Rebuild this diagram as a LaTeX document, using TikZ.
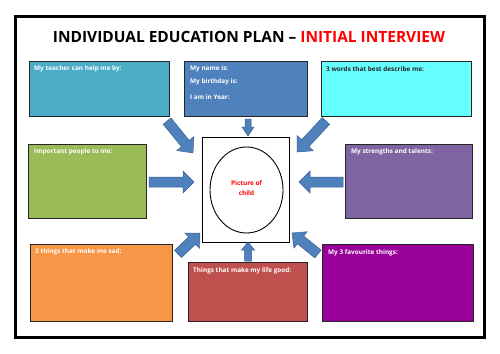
\documentclass[tikz,border=0pt]{standalone}
\usepackage{fontspec}
\setmainfont{Open Sans}
\usetikzlibrary{calc,shapes.geometric}
\definecolor{cteal}{HTML}{4BACC6}
\definecolor{cblue}{HTML}{4F81BD}
\definecolor{ccyan}{HTML}{66FFFF}
\definecolor{cgreen}{HTML}{9BBB59}
\definecolor{cpurple}{HTML}{8064A2}
\definecolor{corange}{HTML}{F79646}
\definecolor{cred}{HTML}{C0504D}
\definecolor{cmagenta}{HTML}{990099}
\definecolor{carrow}{HTML}{4F81BD}
\definecolor{carrowline}{HTML}{3A6090}
\definecolor{ctitlered}{HTML}{FF0000}
\tikzset{
  box/.style={draw=black!85, line width=1.3pt, anchor=north west, inner sep=0pt},
  lbl/.style={anchor=west, text=white, font=\fontsize{6.4}{7.5}\selectfont\bfseries, inner sep=0pt},
  arr/.style={fill=carrow, draw=carrowline, line width=0.5pt, line join=miter},
}
% cx, cy, angle, half length, shaft half, head half, head length
\newcommand\barrow[7]{%
  \draw[arr,shift={(#1,#2)},rotate=#3] (-#4,-#5) -- (#4-#7,-#5) -- (#4-#7,-#6) -- (#4,0) -- (#4-#7,#6) -- (#4-#7,#5) -- (-#4,#5) -- cycle;}
\begin{document}
\begin{tikzpicture}[x=1pt,y=-1pt]
\useasboundingbox (0,0) rectangle (500,353);
\fill[white] (0,0) rectangle (500,353);
\draw[line width=3pt] (15.5,16.5) rectangle (484,337);
\node[font=\bfseries, inner sep=0pt] (title) at (249,37) {\resizebox{392pt}{!}{INDIVIDUAL EDUCATION PLAN – \textcolor{ctitlered}{INITIAL INTERVIEW}}};
% top row
\node[box, fill=cteal, minimum width=140pt, minimum height=55pt] (b1) at (29,61) {};
\node[box, fill=cblue, minimum width=123pt, minimum height=55pt] (b2) at (184,61) {};
\node[box, fill=ccyan, minimum width=150pt, minimum height=55pt] (b3) at (321,61) {};
% middle row
\node[box, fill=cgreen, minimum width=118pt, minimum height=74pt] (b4) at (28,144) {};
\node[box, fill=cpurple, minimum width=127pt, minimum height=74pt] (b5) at (345,144) {};
\node[box, fill=white, draw=black, line width=1.2pt, minimum width=87pt, minimum height=105pt] (pic) at (202,137) {};
\node[draw=black, line width=0.9pt, ellipse, minimum width=73pt, minimum height=86pt, inner sep=0pt] (ov) at (246.5,190) {};
% bottom row
\node[box, fill=corange, minimum width=142pt, minimum height=77pt] (b6) at (30,244) {};
\node[box, fill=cred, minimum width=119pt, minimum height=59pt] (b7) at (188,262) {};
\node[box, fill=cmagenta, minimum width=151pt, minimum height=77pt] (b8) at (322,244) {};
% labels
\node[lbl] (t1) at (34,69) {My teacher can help me by:};
\node[lbl] (t2a) at (190,69) {My name is:};
\node[lbl] (t2b) at (190,82) {My birthday is:};
\node[lbl] (t2c) at (190,97) {I am in Year:};
\node[lbl, text=black!85] (t3) at (326,69) {3 words that best describe me:};
\node[lbl] (t4) at (34,152) {Important people to me:};
\node[lbl] (t5) at (351,152) {My strengths and talents:};
\node[lbl] (t6) at (35,252) {3 things that make me sad:};
\node[lbl] (t7) at (193,271) {Things that make my life good:};
\node[lbl] (t8) at (328,253) {My 3 favourite things:};
\node[text=ctitlered, font=\fontsize{6.4}{7.5}\selectfont\bfseries, align=center, inner sep=0pt] (pc) at (246.5,188) {Picture of\\[2pt]child};
% arrows
\barrow{180}{137}{-50.9}{20.5}{5}{11}{12}
\barrow{248}{127.5}{-90}{8.5}{3}{6}{9}
\barrow{311.5}{136.5}{-133}{21.2}{5}{11}{12}
\barrow{171.5}{182}{0}{22.5}{5}{11}{11}
\barrow{321}{182}{180}{22}{5}{11}{11}
\barrow{189}{243.5}{43.7}{15.2}{5}{10.5}{11}
\barrow{248}{251.5}{90}{9.5}{3.5}{6.5}{8}
\barrow{305}{243.5}{141}{16.7}{5}{10.5}{11}
\end{tikzpicture}
\end{document}
